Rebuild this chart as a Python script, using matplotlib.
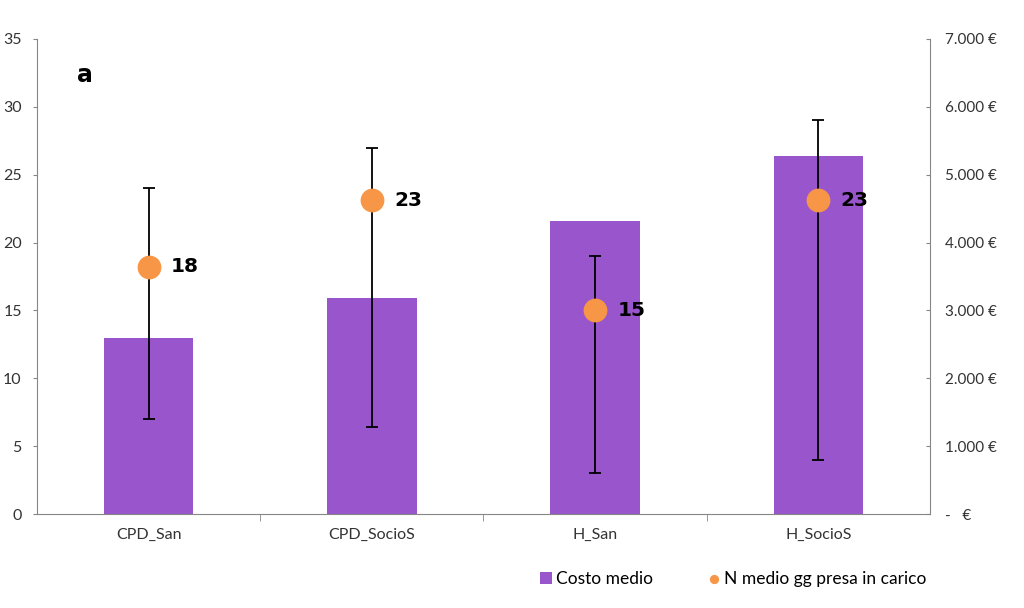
import matplotlib.pyplot as plt
import matplotlib.ticker as mticker
import numpy as np

plt.rcParams['font.family'] = ['Lato', 'DejaVu Sans']

# dati
categorie = ['CPD_San', 'CPD_SocioS', 'H_San', 'H_SocioS']
costo_medio = [2595, 3180, 4315, 5275]
gg_medio = [18.2, 23.1, 15.0, 23.1]
gg_label = ['18', '23', '15', '23']
gg_min = [7.0, 6.4, 3.0, 4.0]
gg_max = [24.0, 27.0, 19.0, 29.0]

viola = '#9955CC'
arancio = '#F79646'
grigio = '#868686'

fig = plt.figure(figsize=(10.24, 6.08), dpi=100)
ax = fig.add_axes([0.0361, 0.1546, 0.8721, 0.7813])
ax2 = ax.twinx()

x = np.arange(len(categorie))

# barre sull'asse secondario (costo)
ax2.bar(x, costo_medio, width=0.4, color=viola, label='Costo medio')
ax2.set_ylim(0, 7000)
ax2.set_yticks(np.arange(0, 7001, 1000))

def fmt_euro(v, pos):
    if v == 0:
        return '-   €'
    return '{:,.0f} €'.format(v).replace(',', '.')

ax2.yaxis.set_major_formatter(mticker.FuncFormatter(fmt_euro))

# punti + barre di errore sull'asse principale (giorni)
err_low = [g - lo for g, lo in zip(gg_medio, gg_min)]
err_high = [hi - g for g, hi in zip(gg_medio, gg_max)]
ax.errorbar(x, gg_medio, yerr=[err_low, err_high], fmt='none', ecolor='black',
            elinewidth=1.3, capsize=4, capthick=1.3, zorder=2)
ax.scatter(x, gg_medio, s=260, color=arancio, zorder=3, label='N medio gg presa in carico')
for xi, yi, t in zip(x, gg_medio, gg_label):
    ax.text(xi + 0.1, yi, t, fontsize=14.5, fontweight='bold', va='center', ha='left',
            family=['DejaVu Sans'])

ax.set_zorder(ax2.get_zorder() + 1)
ax.patch.set_visible(False)

ax.set_xlim(-0.5, 3.5)
ax.set_ylim(0, 35)
ax.set_yticks(np.arange(0, 36, 5))
ax.set_xticks(x)
ax.set_xticklabels(categorie)
ax.set_xticks([0.5, 1.5, 2.5], minor=True)
ax.tick_params(axis='x', which='major', length=0, pad=10, labelsize=11.5, colors='#333333')
ax.tick_params(axis='x', which='minor', length=5, color=grigio)
ax.tick_params(axis='y', length=3, color=grigio, labelsize=11.5, labelcolor='#333333', pad=8)
ax2.tick_params(axis='y', length=3, direction='in', color=grigio, labelsize=11,
                labelcolor='#333333', pad=11)

for a in (ax, ax2):
    a.spines['top'].set_visible(False)
    for s in ('left', 'right', 'bottom'):
        a.spines[s].set_color(grigio)
ax.spines['right'].set_visible(False)
ax2.spines['left'].set_visible(False)
ax2.spines['bottom'].set_visible(False)

ax.text(0.045, 0.925, 'a', transform=ax.transAxes, fontsize=17, fontweight='bold',
        ha='left', va='center', family=['DejaVu Sans'])

h1, l1 = ax2.get_legend_handles_labels()
h2, l2 = ax.get_legend_handles_labels()
fig.legend(h1 + h2, l1 + l2, loc='center', bbox_to_anchor=(0.716, 0.048), ncol=2,
           frameon=False, fontsize=12.5, handlelength=0.7, handletextpad=0.2,
           columnspacing=3.2, markerscale=0.35)

fig.savefig('out.png', dpi=100)
